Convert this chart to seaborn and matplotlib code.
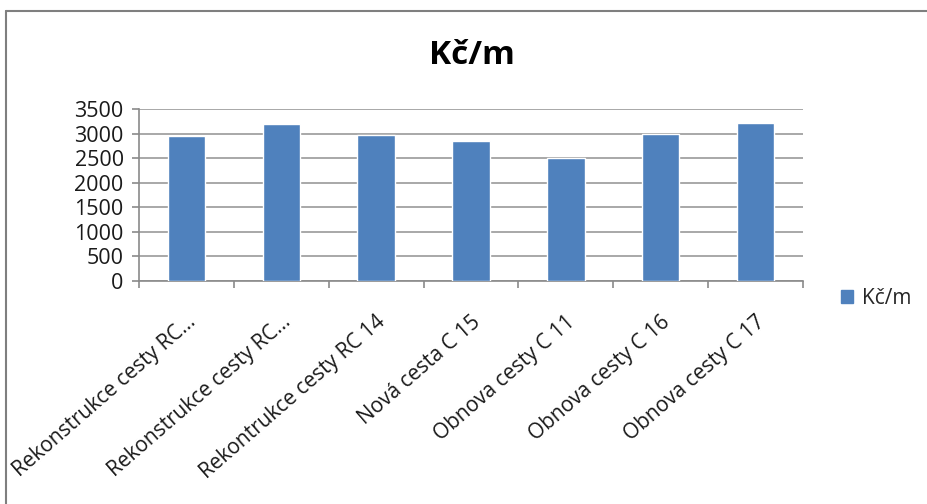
import matplotlib
matplotlib.use("Agg")
import matplotlib.pyplot as plt
import matplotlib.lines as mlines
import matplotlib.patches as mpatches
from matplotlib.ticker import FixedLocator
import seaborn as sns
import pandas as pd

# Cost per metre for each road project
categories = [
    "Rekonstrukce cesty RC...",
    "Rekonstrukce cesty RC...",
    "Rekontrukce cesty RC 14",
    "Nová cesta C 15",
    "Obnova cesty C 11",
    "Obnova cesty C 16",
    "Obnova cesty C 17",
]
values = [2960, 3200, 2970, 2850, 2500, 3000, 3220]
y_ticks = [0, 500, 1000, 1500, 2000, 2500, 3000, 3500]
series_name = "Kč/m"

sns.set_theme(style="white")
plt.rcParams["font.family"] = ["Open Sans", "DejaVu Sans"]

BAR_COLOR = "#4F81BD"
GRID_COLOR = "#9A9A9A"
AXIS_COLOR = "#8A8A8A"
TEXT_COLOR = "#1a1a1a"

df = pd.DataFrame({"idx": range(len(values)), "value": values})

fig = plt.figure(figsize=(9.28, 5.04), dpi=100)
ax = fig.add_axes([139 / 928, 1 - 281 / 504, (803 - 139) / 928, (281 - 109) / 504])

sns.barplot(data=df, x="idx", y="value", color=BAR_COLOR, width=0.394,
            saturation=1, ax=ax, zorder=3)

ax.set_xlim(-0.5, len(values) - 0.5)
ax.set_ylim(0, 3500)
ax.set_yticks(y_ticks)
ax.set_yticklabels([str(v) for v in y_ticks], fontsize=15.5, color=TEXT_COLOR)
ax.yaxis.grid(True, color=GRID_COLOR, linewidth=1.2, zorder=0)
ax.set_axisbelow(True)

# category labels at bar centres, tick marks on the category boundaries
ax.set_xticks(range(len(values)))
ax.set_xticklabels(categories, fontsize=15, color=TEXT_COLOR, rotation=41,
                   rotation_mode="anchor", ha="right", va="top")
ax.xaxis.set_minor_locator(FixedLocator([i - 0.5 for i in range(len(values) + 1)]))
ax.tick_params(axis="x", which="major", length=0, pad=22)
ax.tick_params(axis="x", which="minor", length=5, width=1.2, color=AXIS_COLOR,
               direction="out", bottom=True)
ax.tick_params(axis="y", which="major", length=5, width=1.2, color=AXIS_COLOR,
               direction="out", left=True, pad=6)

ax.set_xlabel("")
ax.set_ylabel("")
for side in ("top", "right"):
    ax.spines[side].set_visible(False)
for side in ("left", "bottom"):
    ax.spines[side].set_color(AXIS_COLOR)
    ax.spines[side].set_linewidth(1.2)

# title
fig.text(472 / 928, 1 - 56 / 504, "Kč/m", ha="center", va="center",
         fontsize=24, fontweight="bold", color="#000000")

# legend
handle = mpatches.Patch(color=BAR_COLOR, label=series_name)
fig.legend(handles=[handle], loc="center left",
           bbox_to_anchor=(841 / 928, 1 - 298 / 504), frameon=False,
           fontsize=15, handlelength=0.6, handleheight=0.6,
           handletextpad=0.4, borderpad=0, borderaxespad=0)

# chart frame (top and left edges)
fig.add_artist(mlines.Line2D([6 / 928, 1.0], [1 - 11 / 504, 1 - 11 / 504],
                             transform=fig.transFigure, color="#7F7F7F", linewidth=1.5))
fig.add_artist(mlines.Line2D([6 / 928, 6 / 928], [1 - 11 / 504, 0.0],
                             transform=fig.transFigure, color="#7F7F7F", linewidth=1.5))

fig.savefig("out.png", dpi=100, facecolor="white")
